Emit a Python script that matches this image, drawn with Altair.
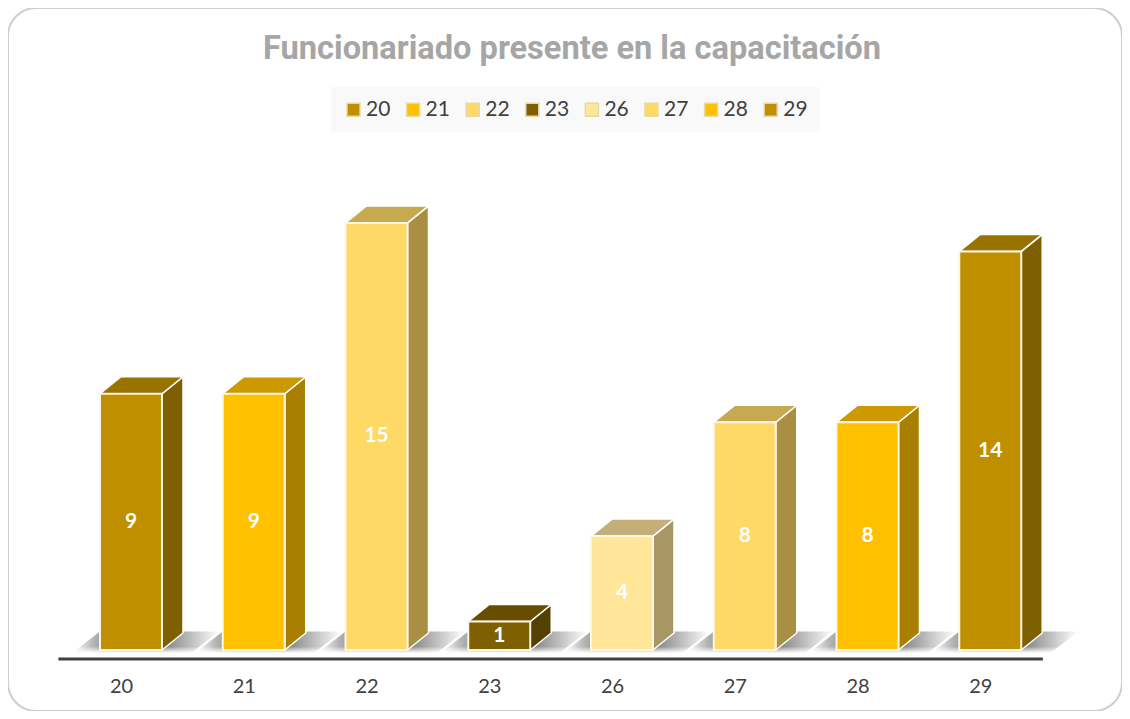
import altair as alt
import pandas as pd

categories = ["20", "21", "22", "23", "26", "27", "28", "29"]
values = [9, 9, 15, 1, 4, 8, 8, 14]
front_colors = ["#BF8F00", "#FFC000", "#FFD966", "#7F6000", "#FFE699", "#FFD966", "#FFC000", "#BF8F00"]
side_colors = ["#7F6000", "#A87F00", "#A88F42", "#544000", "#A89765", "#A88F42", "#A87F00", "#7F6000"]
top_colors = ["#997300", "#CC9900", "#C7A94F", "#664D00", "#C4AF78", "#C7A94F", "#CC9900", "#997300"]

W, H = 1114, 703
X0, PX_X = 121 - 8, 122.75      # pixel of index 0, pixels per index
Y0, PX_Y = 650 - 8, 28.47       # pixel of value 0, pixels per value
x_scale = alt.Scale(domain=[-X0 / PX_X, (W - X0) / PX_X], nice=False, zero=False)
y_scale = alt.Scale(domain=[-(H - Y0) / PX_Y, Y0 / PX_Y], nice=False, zero=False)

offset_left, bar_w, depth_x, depth_y = -0.171, 0.505, 0.171, 0.597

front, side, top, floor, labels = [], [], [], [], []
for i, (c, v) in enumerate(zip(categories, values)):
    l = i + offset_left
    r = l + bar_w
    front.append(dict(cat=c, l=l, r=r, v=v, b=0))
    labels.append(dict(cat=c, x=(l + r) / 2, y=v / 2, t=str(v)))
    side.append(dict(cat=c, c=side_colors[i], x=r, lo=0, hi=v))
    side.append(dict(cat=c, c=side_colors[i], x=r + depth_x, lo=depth_y, hi=v + depth_y))
    top.append(dict(cat=c, c=top_colors[i], y=v, a=l, b=r))
    top.append(dict(cat=c, c=top_colors[i], y=v + depth_y, a=l + depth_x, b=r + depth_x))
    floor.append(dict(cat=c, y=-0.08, a=l - 0.22, b=l + 0.75))
    floor.append(dict(cat=c, y=depth_y + 0.05, a=l, b=l + 0.97))

X = lambda f: alt.X(f, scale=x_scale, axis=None, title=None)
Y = lambda f: alt.Y(f, scale=y_scale, axis=None, title=None, stack=None)

shadow = alt.Chart(pd.DataFrame(floor)).mark_area(
    orient="horizontal",
    color=alt.Gradient(
        gradient="linear", x1=0, x2=1, y1=0, y2=0,
        stops=[
            alt.GradientStop(offset=0.0, color="#ffffff"),
            alt.GradientStop(offset=0.14, color="#b4b4b4"),
            alt.GradientStop(offset=0.25, color="#8c8c8c"),
            alt.GradientStop(offset=0.62, color="#808080"),
            alt.GradientStop(offset=1.0, color="#ffffff"),
        ],
    ),
).encode(x=X("a:Q"), x2="b:Q", y=Y("y:Q"), detail="cat:N")

floor_fade = alt.Chart(pd.DataFrame({"a": [-0.7, 8.0], "lo": [-0.1, -0.1], "hi": [0.12, 0.12]})).mark_area(
    color=alt.Gradient(
        gradient="linear", x1=0, x2=0, y1=1, y2=0,
        stops=[
            alt.GradientStop(offset=0.0, color="rgba(255,255,255,1)"),
            alt.GradientStop(offset=1.0, color="rgba(255,255,255,0)"),
        ],
    ),
).encode(x=X("a:Q"), y=Y("lo:Q"), y2="hi:Q")

side_faces = alt.Chart(pd.DataFrame(side)).mark_area(stroke="#ffffff", strokeWidth=1.5).encode(
    x=X("x:Q"), y=Y("lo:Q"), y2="hi:Q",
    color=alt.Color("c:N", scale=None, legend=None), detail="cat:N",
)
top_faces = alt.Chart(pd.DataFrame(top)).mark_area(orient="horizontal", stroke="#ffffff", strokeWidth=1.5).encode(
    x=X("a:Q"), x2="b:Q", y=Y("y:Q"),
    color=alt.Color("c:N", scale=None, legend=None), detail="cat:N",
)
front_faces = alt.Chart(pd.DataFrame(front)).mark_rect(stroke="#fbf6e6", strokeWidth=2).encode(
    x=alt.X("l:Q", scale=x_scale, title=None, axis=alt.Axis(
        values=list(range(len(categories))),
        labelExpr="%s[datum.value]" % str(categories),
        domain=False, ticks=False, grid=False, offset=-25, labelPadding=0,
        labelFont="Lato", labelFontSize=20, labelColor="#404040", labelFlush=False, labelOverlap=False,
        labelBaseline="middle",
    )),
    x2="r:Q",
    y=Y("b:Q"), y2="v:Q",
    fill=alt.Fill("cat:N", sort=categories, title=None,
                  scale=alt.Scale(domain=categories, range=front_colors),
                  legend=alt.Legend(
                      orient="none", legendX=323, legendY=79, direction="horizontal", columns=8,
                      fillColor="#f9f9f9", padding=12, symbolType="square", symbolSize=170,
                      symbolStrokeWidth=1.5, symbolStrokeColor="#e6d9a8", labelFont="Lato",
                      labelFontSize=21, labelColor="#404040", columnPadding=11.6, labelOffset=2,
                  )),
)
text = alt.Chart(pd.DataFrame(labels)).mark_text(
    font="Lato", fontSize=21, fontWeight="bold", color="#ffffff", align="center", baseline="middle"
).encode(x=X("x:Q"), y=Y("y:Q"), text="t:N")

axis_line = alt.Chart(pd.DataFrame({"a": [-0.51], "b": [7.51], "y": [-0.32]})).mark_rule(
    color="#404040", strokeWidth=3
).encode(x=X("a:Q"), x2="b:Q", y=Y("y:Q"))

chart = alt.layer(shadow, floor_fade, axis_line, side_faces, top_faces, front_faces, text).resolve_scale(
    color="independent", fill="independent"
).resolve_axis(x="independent", y="independent").properties(
    width=W, height=H, padding=0,
    autosize=alt.AutoSizeParams(type="none"),
    background="#ffffff",
    title=alt.TitleParams(
        "Funcionariado presente en la capacitación",
        font="Roboto", fontSize=32.6, fontWeight="bold", color="#A6A6A6",
        anchor="middle", frame="group", dy=58, dx=7, offset=0,
    ),
).configure_view(stroke="#cfcfcf", strokeWidth=2, cornerRadius=28, fill="#ffffff")

chart.save("out.html", embed_options={"renderer": "svg", "actions": False})
